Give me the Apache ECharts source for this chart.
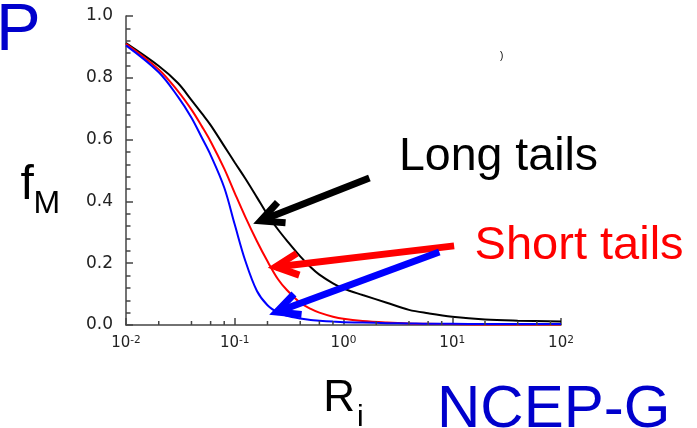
<!DOCTYPE html>
<html>
<head>
<meta charset="utf-8">
<script src="https://cdn.jsdelivr.net/npm/echarts@6/dist/echarts.min.js"></script>
<style>
html,body{margin:0;padding:0;background:#fff;}
#c{width:697px;height:428px;}
</style>
</head>
<body>
<div id="c"></div>
<script>
// Richardson number samples (x axis, log scale)
const riValues = [0.01, 0.02, 0.03, 0.04, 0.05, 0.06, 0.08, 0.1, 0.125, 0.16, 0.2, 0.25, 0.3, 0.4, 0.5, 0.6, 0.8, 1, 1.5, 2.5, 4, 6, 10, 20, 40, 100];
// f_M for the three stability functions
const longTails  = [0.912, 0.838, 0.783, 0.728, 0.684, 0.647, 0.579, 0.526, 0.474, 0.413, 0.357, 0.309, 0.274, 0.222, 0.187, 0.163, 0.135, 0.118, 0.097, 0.072, 0.049, 0.038, 0.027, 0.018, 0.014, 0.011];
const shortRed   = [0.910, 0.827, 0.757, 0.697, 0.642, 0.594, 0.506, 0.427, 0.350, 0.271, 0.206, 0.148, 0.114, 0.072, 0.052, 0.040, 0.027, 0.020, 0.013, 0.008, 0.005, 0.004, 0.003, 0.002, 0.002, 0.002];
const shortBlue  = [0.905, 0.818, 0.739, 0.671, 0.605, 0.550, 0.445, 0.325, 0.208, 0.110, 0.064, 0.040, 0.030, 0.021, 0.016, 0.014, 0.011, 0.009, 0.008, 0.006, 0.005, 0.004, 0.004, 0.003, 0.003, 0.003];
// minor x ticks (2,4,6,8 per decade)
const minorTickX = [0.02, 0.04, 0.06, 0.08, 0.2, 0.4, 0.6, 0.8, 2, 4, 6, 8, 20, 40, 60, 80];
// annotation arrows: tail (x,y) -> tip (x,y), in data units
const arrowTailX = [1.73, 10.4, 7.6];
const arrowTailY = [0.476, 0.256, 0.236];
const arrowTipX  = [0.173, 0.238, 0.243];
const arrowTipY  = [0.337, 0.188, 0.042];
const arrowColors = ['#000000', '#ff0000', '#0000ff'];

const zip = (xs, ys) => xs.map((x, i) => [x, ys[i]]);
const axisColor = '#444';
const labelFont = 'DejaVu Sans';

const chart = echarts.init(document.getElementById('c'), null, {renderer: 'canvas'});
chart.setOption({
  animation: false,
  backgroundColor: '#fff',
  grid: {left: 126, right: 136, top: 16, bottom: 103, containLabel: false},
  xAxis: {
    type: 'log', logBase: 10, min: 0.01, max: 100, splitNumber: 4,
    axisLine: {lineStyle: {color: axisColor, width: 1.5}},
    axisTick: {inside: true, length: 7, lineStyle: {color: axisColor, width: 1.5}},
    splitLine: {show: false},
    axisLabel: {
      margin: 10,
      formatter: v => '{b|10}{s|' + Math.round(Math.log10(v)) + '}',
      rich: {
        b: {fontFamily: labelFont, fontSize: 15, color: '#222', lineHeight: 17},
        s: {fontFamily: labelFont, fontSize: 10.5, color: '#222', verticalAlign: 'top', lineHeight: 11}
      }
    }
  },
  yAxis: {
    type: 'value', min: 0, max: 1, interval: 0.2,
    axisLine: {show: true, lineStyle: {color: axisColor, width: 1.5}},
    axisTick: {show: true, inside: true, length: 7, lineStyle: {color: axisColor, width: 1.5}},
    minorTick: {show: true, splitNumber: 5, length: 4.5, lineStyle: {color: axisColor, width: 1.5}},
    splitLine: {show: false},
    axisLabel: {margin: 13, fontFamily: labelFont, fontSize: 17, color: '#222',
      formatter: v => v.toFixed(1)}
  },
  series: [
    {type: 'line', data: zip(riValues, longTails), symbol: 'none', smooth: 0.35, lineStyle: {color: '#000', width: 2}, z: 3},
    {type: 'line', data: zip(riValues, shortRed), symbol: 'none', smooth: 0.35, lineStyle: {color: '#ff0000', width: 2}, z: 4},
    {type: 'line', data: zip(riValues, shortBlue), symbol: 'none', smooth: 0.35, lineStyle: {color: '#0000ff', width: 2}, z: 5},
    {
      type: 'custom', z: 6, clip: false, silent: true,
      data: minorTickX.map(x => [x, 0]),
      encode: {x: 0, y: 1},
      renderItem: (params, api) => {
        const p = api.coord([api.value(0), api.value(1)]);
        return {type: 'line', shape: {x1: p[0], y1: p[1], x2: p[0], y2: p[1] - 4}, style: {stroke: axisColor, lineWidth: 1.5}};
      }
    },
    {
      type: 'custom', z: 10, clip: false, silent: true,
      data: arrowTailX.map((x, i) => [x, arrowTailY[i], arrowTipX[i], arrowTipY[i], i]),
      encode: {x: [0, 2], y: [1, 3]},
      renderItem: (params, api) => {
        const t = api.coord([api.value(0), api.value(1)]);
        const h = api.coord([api.value(2), api.value(3)]);
        const col = arrowColors[api.value(4)];
        const ang = Math.atan2(t[1] - h[1], t[0] - h[0]);
        const L = 25, spread = 26 * Math.PI / 180;
        const b1 = [h[0] + L * Math.cos(ang - spread), h[1] + L * Math.sin(ang - spread)];
        const b2 = [h[0] + L * Math.cos(ang + spread), h[1] + L * Math.sin(ang + spread)];
        return {type: 'group', children: [
          {type: 'line', shape: {x1: t[0], y1: t[1], x2: h[0], y2: h[1]}, style: {stroke: col, lineWidth: 7, lineCap: 'butt'}},
          {type: 'polyline', shape: {points: [b1, h, b2]}, style: {stroke: col, fill: null, lineWidth: 7, lineJoin: 'miter', lineCap: 'butt'}}
        ]};
      }
    }
  ],
  graphic: [
    {type: 'text', left: -4, top: 31.8 - 33.5, style: {text: 'P', font: '67px "Liberation Sans"', fill: '#0000cc'}},
    {type: 'text', x: 399, y: 157.4, style: {text: 'Long tails', font: '46.5px "Liberation Sans"', fill: '#000', verticalAlign: 'middle'}},
    {type: 'text', x: 474.6, y: 246.1, style: {text: 'Short tails', font: '47px "Liberation Sans"', fill: '#ff0000', verticalAlign: 'middle'}},
    {type: 'text', x: 20.5, y: 186.1, style: {text: 'f', font: '48px "Liberation Sans"', fill: '#000', verticalAlign: 'middle'}},
    {type: 'text', x: 33.6, y: 203.9, style: {text: 'M', font: '32px "Liberation Sans"', fill: '#000', verticalAlign: 'middle'}},
    {type: 'text', x: 323.2, y: 398.8, style: {text: 'R', font: '44px "Liberation Sans"', fill: '#000', verticalAlign: 'middle'}},
    {type: 'text', x: 357, y: 417.8, style: {text: 'i', font: '30px "Liberation Sans"', fill: '#000', verticalAlign: 'middle'}},
    {type: 'text', x: 437, y: 410.5, style: {text: 'NCEP-G', font: '60px "Liberation Sans"', fill: '#0000cc', verticalAlign: 'middle'}},
    {type: 'text', x: 500, y: 56, style: {text: ')', font: '10px "Liberation Sans"', fill: '#000', verticalAlign: 'middle'}}
  ]
});
</script>
</body>
</html>
